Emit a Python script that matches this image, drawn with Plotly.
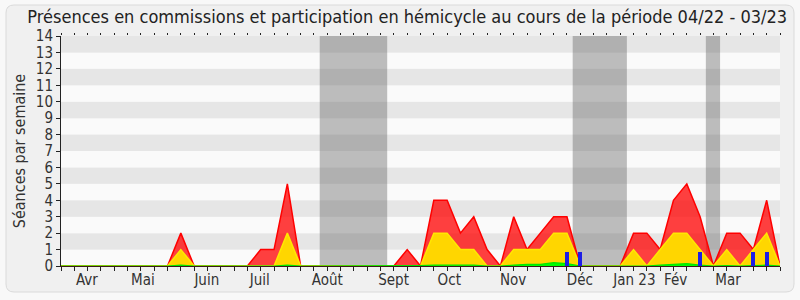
import plotly.graph_objects as go

# ---- data (weekly index 0..54) ----
weeks = list(range(55))
commissions = [0,0,0,0,0,0,0,0,0,2,0,0,0,0,0,1,1,5,0,0,
               0,0,0,0,0,0,1,0,4,4,2,3,1,0,3,1,2,3,3,0,
               0,0,0,2,2,1,4,5,3,0,2,2,1,4,0]
hemicycle = [0,0,0,0,0,0,0,0,0,1,0,0,0,0,0,0,0,2,0,0,
             0,0,0,0,0,0,0,0,2,2,1,1,0,0,1,1,1,2,2,0,
             0,0,0,1,0,1,2,2,1,0,1,0,1,2,0]
interventions = [0,0,0,0,0,0,0,0,0,0.05,0,0,0,0,0,0,0,0.05,0,0,
                 0,0,0,0,0,0,0,0.03,0.05,0.05,0.05,0.05,0,0,0.05,0.1,0.1,0.2,0.15,0,
                 0,0,0,0.03,0,0.05,0.1,0.15,0.05,0,0.03,0,0.03,0.05,0]
questions_weeks = [38, 39, 48, 52, 53]
questions_vals = [0.85, 0.85, 0.85, 0.85, 0.85]
vacances = [(19.43, 24.5), (38.43, 42.5), (48.43, 49.5)]
month_pos = [1.95, 6.15, 10.95, 14.93, 20, 24.98, 29.16, 33.96, 38.97, 43.06, 46.16, 50.1]
month_labels = ["Avr", "Mai", "Juin", "Juil", "Août", "Sept", "Oct", "Nov", "Déc", "Jan 23", "Fév", "Mar"]
y_ticks = list(range(15))

FONT = "DejaVu Sans Condensed, DejaVu Sans"
W, H = 800, 300
L, R, T, B = 61, 20, 36, 34
pw, ph = W - L - R, H - T - B

fig = go.Figure()
fig.add_trace(go.Scatter(x=weeks, y=commissions, mode="lines", fill="tozeroy",
                         line=dict(color="rgb(255,0,0)", width=1.5),
                         fillcolor="rgba(255,0,0,0.75)", hoverinfo="skip"))
fig.add_trace(go.Scatter(x=weeks, y=hemicycle, mode="lines", fill="tozeroy",
                         line=dict(color="rgb(255,232,0)", width=1.5),
                         fillcolor="rgb(255,214,0)", hoverinfo="skip"))
fig.add_trace(go.Scatter(x=weeks, y=interventions, mode="lines", fill="tozeroy",
                         line=dict(color="rgb(0,230,0)", width=1.2),
                         fillcolor="rgb(0,255,0)", hoverinfo="skip"))
fig.add_trace(go.Bar(x=questions_weeks, y=questions_vals, width=0.3, yaxis="y2",
                     marker=dict(color="rgb(30,30,230)", line=dict(width=0)), hoverinfo="skip"))
fig.add_trace(go.Scatter(x=[0, 54], y=[0, 0], xaxis="x2", mode="lines",
                         line=dict(width=0), hoverinfo="skip", showlegend=False))

shapes = []
def px2paper(px, py):
    return (px - L) / pw, (H - B - py) / ph
def P(px, py):
    a, b = px2paper(px, py)
    return f"{a:.5f},{b:.5f}"
x0, y0, x1, y1, r = 6, 5, 794, 292, 8
path = (f"M {P(x0+r,y0)} L {P(x1-r,y0)} Q {P(x1,y0)} {P(x1,y0+r)} L {P(x1,y1-r)} "
        f"Q {P(x1,y1)} {P(x1-r,y1)} L {P(x0+r,y1)} Q {P(x0,y1)} {P(x0,y1-r)} "
        f"L {P(x0,y0+r)} Q {P(x0,y0)} {P(x0+r,y0)} Z")
shapes.append(dict(type="path", path=path, xref="paper", yref="paper", layer="below",
                   fillcolor="#f0f0f0", line=dict(color="#dadada", width=1)))
for k in range(14):
    shapes.append(dict(type="rect", xref="x", yref="y", x0=0, x1=54, y0=k, y1=k + 1,
                       layer="below", line=dict(width=0),
                       fillcolor="#e6e6e6" if k % 2 == 1 else "#fafafa"))
for a, b in vacances:
    shapes.append(dict(type="rect", xref="x", yref="y", x0=a, x1=b, y0=0, y1=14,
                       layer="below", line=dict(width=0), fillcolor="rgba(95,95,95,0.4)"))

fig.update_layout(
    width=W, height=H, margin=dict(l=L, r=R, t=T, b=B),
    paper_bgcolor="#f8f8f8", plot_bgcolor="#fafafa",
    showlegend=False, bargap=0,
    shapes=shapes,
    title=dict(text="Présences en commissions et participation en hémicycle au cours de la période 04/22 - 03/23",
               x=0.509, xref="container", xanchor="center", y=0.943, yref="container", yanchor="middle",
               pad=dict(t=0, b=0, l=0, r=0),
               font=dict(family=FONT, size=18, color="#222")),
    font=dict(family=FONT, size=15, color="#333"),
    xaxis=dict(range=[0, 54], tickvals=month_pos, ticktext=month_labels, ticks="",
               showgrid=False, zeroline=False, showline=True, linecolor="#3a1a1a", linewidth=1,
               tickfont=dict(family=FONT, size=15, color="#333"),
               minor=dict(tick0=0, dtick=1, ticks="outside", ticklen=4, tickcolor="#222",
                          showgrid=False),
               fixedrange=True),
    xaxis2=dict(range=[0, 54], overlaying="x", side="top", anchor="y",
                tickvals=weeks, ticks="outside", ticklen=2, tickcolor="#222",
                showticklabels=False, showgrid=False, zeroline=False, showline=False),
    yaxis=dict(range=[0, 14], tickvals=y_ticks, ticks="outside", ticklen=4, tickcolor="#222",
               showgrid=False, zeroline=False, showline=True, linecolor="#222", linewidth=1,
               tickfont=dict(family=FONT, size=15, color="#333"),
               title=dict(text="Séances par semaine", font=dict(family=FONT, size=16, color="#333"),
                          standoff=6),
               fixedrange=True),
    yaxis2=dict(range=[0, 14], overlaying="y", anchor="x", side="left", visible=False,
                fixedrange=True),
)
fig.write_html("out.html")
